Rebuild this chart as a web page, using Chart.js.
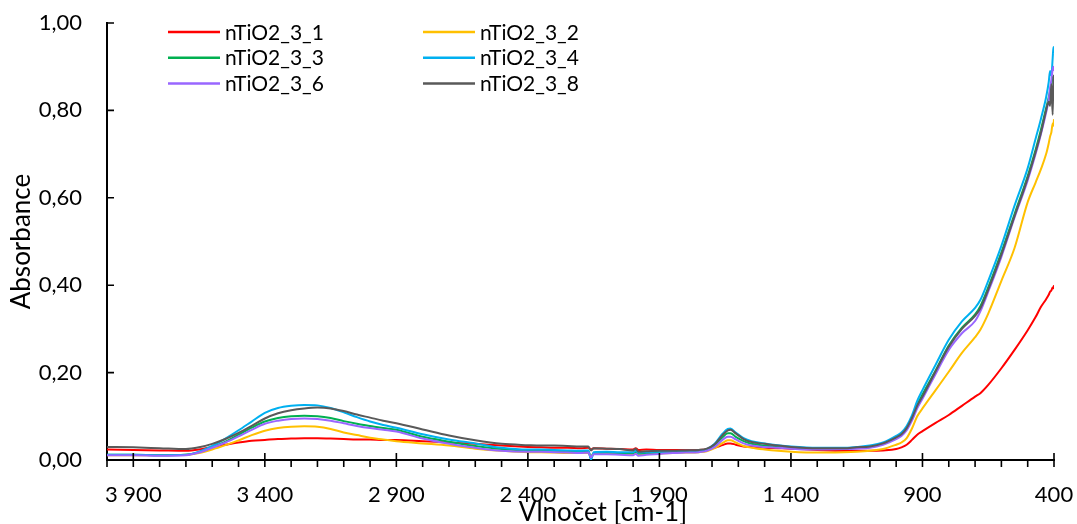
<!DOCTYPE html>
<html>
<head>
<meta charset="utf-8">
<title>nTiO2_3 FTIR</title>
<script src="https://cdn.jsdelivr.net/npm/chart.js@4.4.1/dist/chart.umd.min.js"></script>
<style>
  html, body { margin: 0; padding: 0; background: #fff; }
  #wrap { position: relative; width: 1077px; height: 524px; }
</style>
</head>
<body>
<div id="wrap"><canvas id="spectra"></canvas></div>
<script>
// wavenumber grid shared by all spectra (cm-1, descending)
const wavenumbers = [4000, 3900, 3800, 3700, 3650, 3600, 3550, 3500, 3450, 3400,
  3350, 3300, 3250, 3200, 3150, 3100, 3050, 3000, 2950, 2900,
  2800, 2700, 2600, 2500, 2400, 2350, 2300, 2250, 2200, 2170,
  2160, 2150, 2100, 2050, 2000, 1990, 1980, 1950, 1900, 1850,
  1800, 1750, 1720, 1690, 1660, 1640, 1630, 1610, 1580, 1550,
  1500, 1450, 1400, 1300, 1200, 1150, 1100, 1050, 1000, 980,
  960, 940, 920, 900, 850, 800, 750, 700, 680, 650,
  600, 550, 500, 470, 450, 430, 420, 415, 410, 405,
  402, 400];

const seriesNames = ['nTiO2_3_1', 'nTiO2_3_2', 'nTiO2_3_3', 'nTiO2_3_4', 'nTiO2_3_6', 'nTiO2_3_8'];
const seriesColors = ['#FF0000', '#FFC000', '#00B050', '#00B0F0', '#9966FF', '#595959'];

const abs1 = [0.024, 0.023, 0.022, 0.021, 0.024, 0.030, 0.035, 0.040, 0.044, 0.046,
  0.048, 0.049, 0.050, 0.050, 0.049, 0.048, 0.047, 0.047, 0.046, 0.046,
  0.043, 0.040, 0.037, 0.033, 0.030, 0.029, 0.028, 0.028, 0.027, 0.028,
  0.024, 0.027, 0.026, 0.025, 0.024, 0.027, 0.023, 0.024, 0.023, 0.023,
  0.023, 0.023, 0.024, 0.028, 0.034, 0.038, 0.038, 0.035, 0.031, 0.030,
  0.028, 0.027, 0.026, 0.023, 0.021, 0.021, 0.021, 0.022, 0.025, 0.029,
  0.035, 0.046, 0.058, 0.066, 0.085, 0.103, 0.124, 0.145, 0.153, 0.172,
  0.210, 0.252, 0.297, 0.327, 0.350, 0.368, 0.378, 0.385, 0.388, 0.395,
  0.393, 0.400];

const abs2 = [0.011, 0.011, 0.011, 0.012, 0.016, 0.024, 0.034, 0.045, 0.057, 0.067,
  0.073, 0.076, 0.077, 0.076, 0.071, 0.063, 0.057, 0.051, 0.047, 0.043,
  0.038, 0.033, 0.026, 0.021, 0.018, 0.018, 0.017, 0.016, 0.016, 0.016,
  0.010, 0.015, 0.015, 0.014, 0.014, 0.016, 0.013, 0.014, 0.015, 0.016,
  0.017, 0.018, 0.020, 0.027, 0.039, 0.045, 0.045, 0.040, 0.032, 0.028,
  0.024, 0.021, 0.019, 0.017, 0.018, 0.019, 0.021, 0.025, 0.035, 0.040,
  0.050, 0.072, 0.100, 0.118, 0.160, 0.202, 0.245, 0.281, 0.298, 0.335,
  0.410, 0.485, 0.590, 0.635, 0.665, 0.700, 0.725, 0.740, 0.750, 0.770,
  0.765, 0.780];

const abs3 = [0.012, 0.012, 0.011, 0.012, 0.018, 0.029, 0.042, 0.058, 0.074, 0.088,
  0.096, 0.100, 0.101, 0.100, 0.096, 0.089, 0.083, 0.078, 0.073, 0.069,
  0.053, 0.042, 0.032, 0.025, 0.022, 0.022, 0.021, 0.020, 0.019, 0.020,
  0.003, 0.016, 0.017, 0.016, 0.016, 0.019, 0.015, 0.016, 0.017, 0.018,
  0.019, 0.020, 0.023, 0.033, 0.052, 0.061, 0.061, 0.053, 0.043, 0.037,
  0.033, 0.030, 0.029, 0.026, 0.026, 0.028, 0.030, 0.038, 0.051, 0.058,
  0.072, 0.095, 0.126, 0.150, 0.205, 0.262, 0.303, 0.333, 0.352, 0.395,
  0.475, 0.563, 0.650, 0.710, 0.755, 0.805, 0.830, 0.845, 0.860, 0.875,
  0.870, 0.880];

const abs4 = [0.012, 0.012, 0.011, 0.012, 0.019, 0.032, 0.049, 0.068, 0.088, 0.108,
  0.119, 0.124, 0.126, 0.125, 0.119, 0.109, 0.098, 0.088, 0.080, 0.074,
  0.059, 0.047, 0.038, 0.028, 0.024, 0.024, 0.023, 0.022, 0.021, 0.022,
  0.001, 0.018, 0.019, 0.018, 0.018, 0.021, 0.017, 0.018, 0.019, 0.020,
  0.021, 0.022, 0.025, 0.037, 0.060, 0.071, 0.072, 0.063, 0.050, 0.043,
  0.038, 0.034, 0.031, 0.028, 0.028, 0.030, 0.033, 0.040, 0.055, 0.063,
  0.078, 0.102, 0.135, 0.160, 0.218, 0.275, 0.317, 0.348, 0.366, 0.410,
  0.490, 0.582, 0.668, 0.735, 0.780, 0.830, 0.865, 0.890, 0.880, 0.920,
  0.945, 0.930];

const abs6 = [0.011, 0.011, 0.010, 0.011, 0.017, 0.028, 0.040, 0.054, 0.069, 0.083,
  0.090, 0.094, 0.095, 0.094, 0.090, 0.084, 0.078, 0.073, 0.069, 0.065,
  0.049, 0.037, 0.028, 0.021, 0.019, 0.019, 0.018, 0.017, 0.016, 0.017,
  0.006, 0.013, 0.013, 0.012, 0.011, 0.014, 0.010, 0.012, 0.014, 0.016,
  0.017, 0.018, 0.021, 0.030, 0.046, 0.053, 0.053, 0.047, 0.038, 0.033,
  0.030, 0.028, 0.026, 0.024, 0.025, 0.026, 0.028, 0.035, 0.048, 0.055,
  0.068, 0.090, 0.118, 0.140, 0.197, 0.252, 0.290, 0.318, 0.340, 0.385,
  0.465, 0.555, 0.640, 0.700, 0.745, 0.795, 0.825, 0.850, 0.870, 0.895,
  0.900, 0.890];

const abs8 = [0.030, 0.029, 0.027, 0.025, 0.029, 0.037, 0.048, 0.062, 0.078, 0.095,
  0.107, 0.114, 0.118, 0.120, 0.118, 0.112, 0.104, 0.097, 0.090, 0.084,
  0.070, 0.056, 0.045, 0.037, 0.034, 0.033, 0.033, 0.032, 0.031, 0.031,
  0.022, 0.027, 0.026, 0.025, 0.022, 0.026, 0.019, 0.020, 0.021, 0.021,
  0.022, 0.023, 0.026, 0.036, 0.057, 0.068, 0.069, 0.061, 0.048, 0.041,
  0.037, 0.033, 0.030, 0.027, 0.027, 0.029, 0.031, 0.038, 0.052, 0.059,
  0.073, 0.096, 0.124, 0.145, 0.203, 0.259, 0.300, 0.330, 0.347, 0.390,
  0.470, 0.558, 0.645, 0.705, 0.748, 0.800, 0.820, 0.810, 0.860, 0.790,
  0.880, 0.840];

const seriesValues = [abs1, abs2, abs3, abs4, abs6, abs8];

const xTicks = [3900, 3400, 2900, 2400, 1900, 1400, 900, 400];
const yTicks = [0, 0.2, 0.4, 0.6, 0.8, 1.0];

const FONT = 'Lato, "Open Sans", sans-serif';

function fmtWavenumber(v) {
  if (v < 1000) return String(v);
  return Math.floor(v / 1000) + ' ' + String(v % 1000).padStart(3, '0');
}

// tick marks: majors cross the x axis, minors every 100 cm-1 hang below; y ticks point inward
const axisTicks = {
  id: 'axisTicks',
  afterDraw(chart) {
    const { ctx, scales: { x, y } } = chart;
    const base = y.getPixelForValue(0);
    ctx.save();
    ctx.strokeStyle = '#000';
    ctx.lineWidth = 1.6;
    ctx.beginPath();
    for (let v = 4000; v >= 400; v -= 100) {
      const px = x.getPixelForValue(v);
      ctx.moveTo(px, xTicks.includes(v) ? base - 7 : base);
      ctx.lineTo(px, base + 7);
    }
    yTicks.forEach(v => {
      const py = y.getPixelForValue(v);
      ctx.moveTo(x.left, py);
      ctx.lineTo(x.left + 7, py);
    });
    ctx.moveTo(x.left, base);
    ctx.lineTo(x.left, base + 7);
    ctx.stroke();

    ctx.fillStyle = '#000';
    ctx.font = '26px ' + FONT;
    ctx.textAlign = 'center';
    ctx.textBaseline = 'alphabetic';
    ctx.fillText('Vlnočet [cm-1]', 603, 521);
    ctx.restore();
  }
};

// two-column legend in the upper left of the plot
const gridLegend = {
  id: 'gridLegend',
  afterDraw(chart) {
    const { ctx } = chart;
    ctx.save();
    ctx.font = '21px ' + FONT;
    ctx.textBaseline = 'middle';
    ctx.textAlign = 'left';
    chart.data.datasets.forEach((ds, i) => {
      const col = i % 2, row = Math.floor(i / 2);
      const lx = 168 + col * 255;
      const ly = 32 + row * 25.7;
      ctx.strokeStyle = ds.borderColor;
      ctx.lineWidth = 2.5;
      ctx.beginPath();
      ctx.moveTo(lx, ly);
      ctx.lineTo(lx + 52, ly);
      ctx.stroke();
      ctx.fillStyle = '#000';
      ctx.fillText(ds.label, lx + 57, ly + 1);
    });
    ctx.restore();
  }
};

const datasets = seriesNames.map((name, i) => ({
  label: name,
  data: wavenumbers.map((w, k) => ({ x: w, y: seriesValues[i][k] })),
  borderColor: seriesColors[i],
  backgroundColor: seriesColors[i],
  borderWidth: 2,
  pointRadius: 0,
  cubicInterpolationMode: 'monotone',
  order: seriesNames.length - i
}));

new Chart(document.getElementById('spectra'), {
  type: 'line',
  data: { datasets },
  options: {
    responsive: true,
    maintainAspectRatio: false,
    animation: false,
    layout: { padding: { top: 23, right: 23, bottom: 0, left: 0 } },
    plugins: {
      legend: { display: false },
      tooltip: { enabled: false }
    },
    scales: {
      x: {
        type: 'linear',
        reverse: true,
        min: 400,
        max: 4000,
        grid: { display: false, drawTicks: false },
        border: { display: true, color: '#000', width: 2 },
        afterBuildTicks: s => { s.ticks = xTicks.map(v => ({ value: v })); },
        afterFit: s => { s.height = 64; s.paddingLeft = 0; s.paddingRight = 0; },
        ticks: {
          padding: 22,
          maxRotation: 0,
          autoSkip: false,
          color: '#000',
          font: { family: FONT, size: 22 },
          callback: v => fmtWavenumber(v)
        }
      },
      y: {
        min: 0,
        max: 1,
        grid: { display: false, drawTicks: false },
        border: { display: true, color: '#000', width: 2 },
        afterBuildTicks: s => { s.ticks = yTicks.map(v => ({ value: v })); },
        afterFit: s => { s.width = 107; s.paddingTop = 0; s.paddingBottom = 0; },
        ticks: {
          padding: 25,
          color: '#000',
          font: { family: FONT, size: 22 },
          callback: v => v.toFixed(2).replace('.', ',')
        },
        title: {
          display: true,
          text: 'Absorbance',
          color: '#000',
          font: { family: FONT, size: 26 },
          padding: { top: 6, bottom: 0 }
        }
      }
    }
  },
  plugins: [axisTicks, gridLegend]
});
</script>
</body>
</html>
